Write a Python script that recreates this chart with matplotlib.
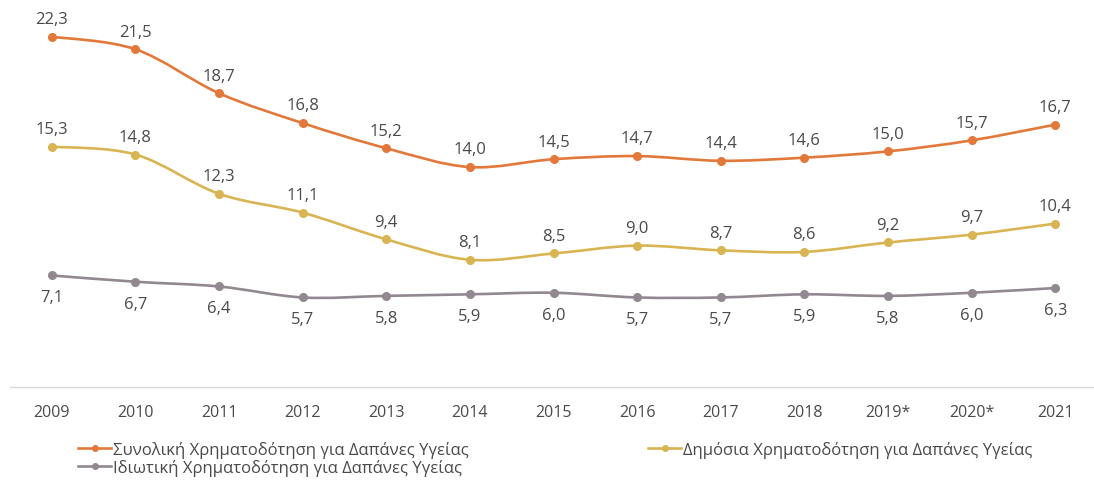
import matplotlib.pyplot as plt
import numpy as np
from matplotlib.path import Path
from matplotlib.patches import PathPatch

plt.rcParams['font.family'] = ['Open Sans', 'DejaVu Sans']

years = ['2009', '2010', '2011', '2012', '2013', '2014', '2015',
         '2016', '2017', '2018', '2019*', '2020*', '2021']
total = [22.3, 21.5, 18.7, 16.8, 15.2, 14.0, 14.5, 14.7, 14.4, 14.6, 15.0, 15.7, 16.7]
public = [15.3, 14.8, 12.3, 11.1, 9.4, 8.1, 8.5, 9.0, 8.7, 8.6, 9.2, 9.7, 10.4]
private = [7.1, 6.7, 6.4, 5.7, 5.8, 5.9, 6.0, 5.7, 5.7, 5.9, 5.8, 6.0, 6.3]

labels = ['Συνολική Χρηματοδότηση για Δαπάνες Υγείας',
          'Ιδιωτική Χρηματοδότηση για Δαπάνες Υγείας',
          'Δημόσια Χρηματοδότηση για Δαπάνες Υγείας']
colors = ['#E2793B', '#928890', '#D8B452']

text_color = '#4A4A4A'


def smooth_path(x, y):
    # cubic bezier through the points, like a spreadsheet "smoothed line"
    pts = np.column_stack([x, y]).astype(float)
    n = len(pts)
    verts = [pts[0]]
    codes = [Path.MOVETO]
    for i in range(n - 1):
        p0 = pts[i - 1] if i > 0 else pts[i]
        p1 = pts[i]
        p2 = pts[i + 1]
        p3 = pts[i + 2] if i + 2 < n else pts[i + 1]
        c1 = p1 + (p2 - p0) / 6.0
        c2 = p2 - (p3 - p1) / 6.0
        verts += [c1, c2, p2]
        codes += [Path.CURVE4] * 3
    return Path(verts, codes)


fig = plt.figure(figsize=(10.94, 4.81), dpi=100)
ax = fig.add_axes([10 / 1094, 1 - 388 / 481, 1087 / 1094, 388 / 481])

x = np.arange(len(years))
series = [total, private, public]
for vals, col, lab in zip(series, colors, labels):
    ax.add_patch(PathPatch(smooth_path(x, vals), facecolor='none',
                           edgecolor=col, lw=1.9, capstyle='round'))
    ax.plot(x, vals, ls='none', marker='o', ms=5.5, color=col)

# legend handles: short line with a dot
handles = [plt.Line2D([], [], color=c, lw=1.9, marker='o', ms=4) for c in colors]

for xi, v in zip(x, total):
    ax.annotate(f'{v:.1f}'.replace('.', ','), (xi, v), xytext=(0, 7),
                textcoords='offset points', ha='center', va='bottom',
                fontsize=12, color=text_color)
for xi, v in zip(x, public):
    ax.annotate(f'{v:.1f}'.replace('.', ','), (xi, v), xytext=(0, 7),
                textcoords='offset points', ha='center', va='bottom',
                fontsize=12, color=text_color)
for xi, v in zip(x, private):
    ax.annotate(f'{v:.1f}'.replace('.', ','), (xi, v), xytext=(0, -10),
                textcoords='offset points', ha='center', va='top',
                fontsize=12, color=text_color)

ax.set_xlim(-0.5, len(years) - 0.5)
ax.set_ylim(0, 24.7)
ax.set_xticks(x)
ax.set_xticklabels(years, fontsize=11.5, color=text_color)
ax.tick_params(axis='x', length=0, pad=12)
ax.set_yticks([])
for s in ['top', 'right', 'left']:
    ax.spines[s].set_visible(False)
ax.spines['bottom'].set_color('#D9D9D9')
ax.spines['bottom'].set_linewidth(1.0)

leg_kw = dict(frameon=False, fontsize=12, handlelength=2.0, handletextpad=0.1,
              labelspacing=0.05, labelcolor=text_color, borderpad=0, borderaxespad=0)
fig.legend(handles[:2], labels[:2], loc='upper left',
           bbox_to_anchor=(78 / 1094, 1 - 442 / 481), **leg_kw)
fig.legend(handles[2:], labels[2:], loc='upper left',
           bbox_to_anchor=(648 / 1094, 1 - 442 / 481), **leg_kw)

fig.savefig('out.png', dpi=100, facecolor='white')
